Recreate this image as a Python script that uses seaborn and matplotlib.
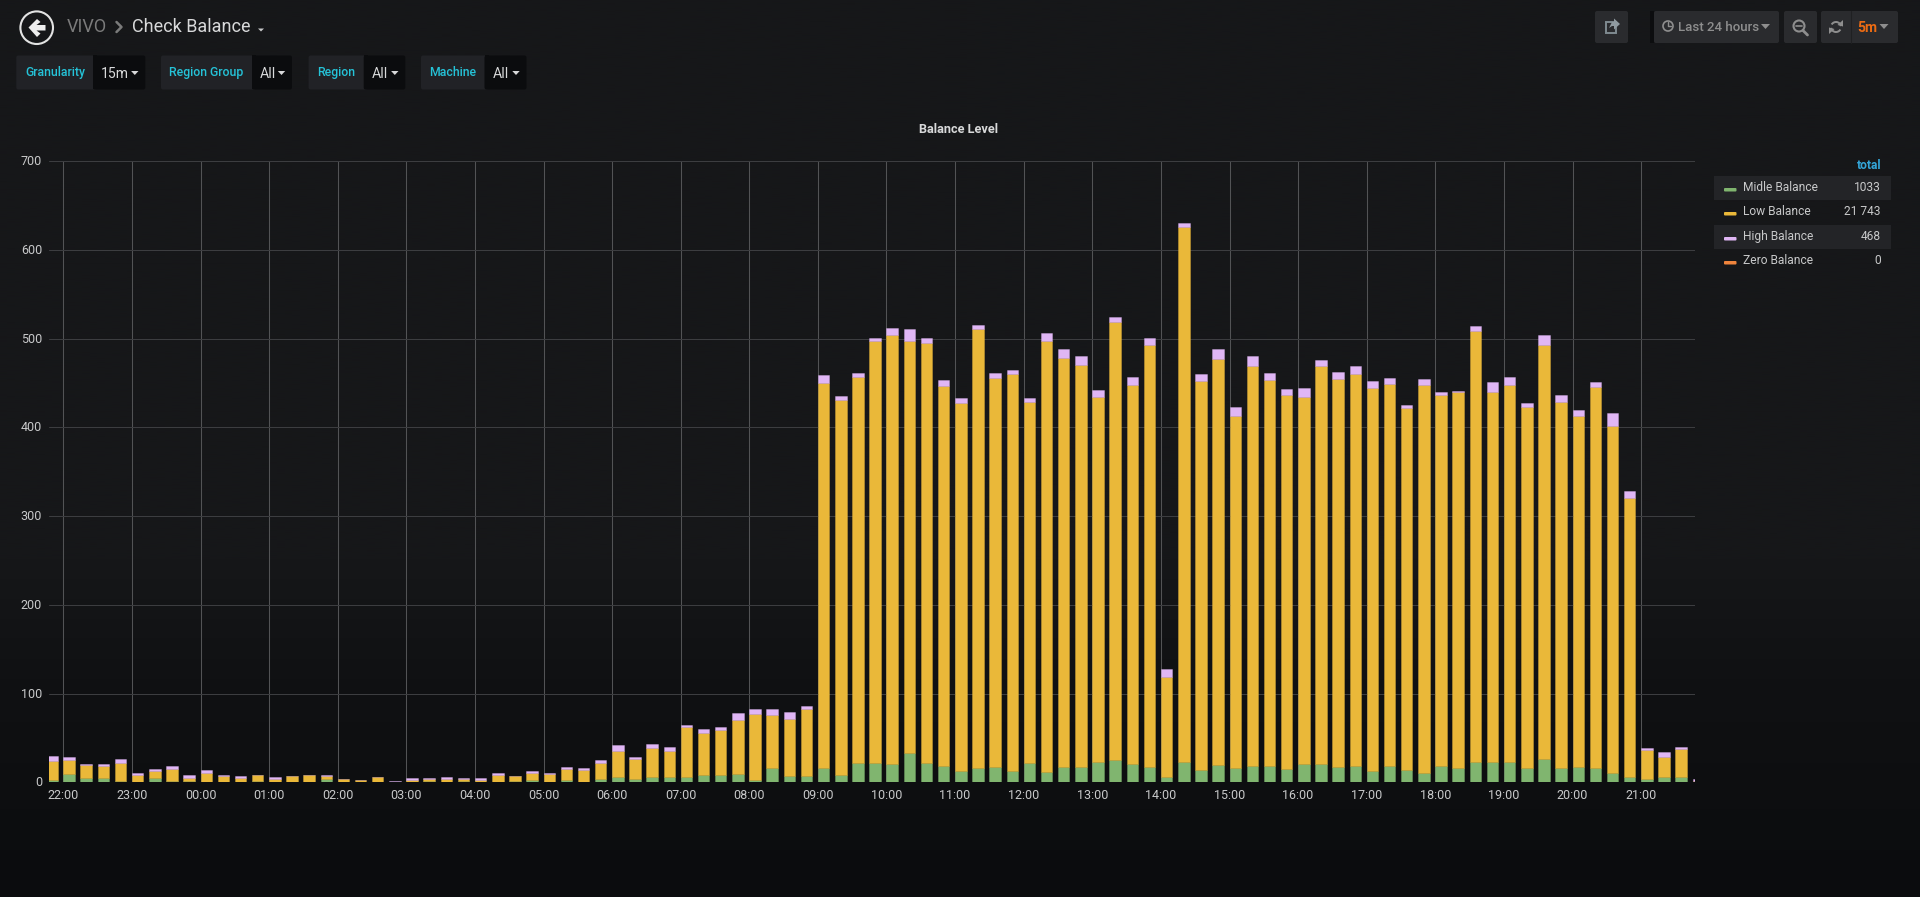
import numpy as np
import pandas as pd
import matplotlib
matplotlib.use("Agg")
import matplotlib.pyplot as plt
from matplotlib.colors import to_rgba, LinearSegmentedColormap
from matplotlib.patches import Circle, FancyBboxPatch, Polygon, Rectangle, Wedge
from matplotlib.transforms import ScaledTranslation
import seaborn as sns

# values per 15 minute slot, first slot is 21:45
midle = [2.3, 9.4, 4.5, 4.5, 1, .5, 4.5, 2, 2, .4, .4, 0, 1.5, .4, .4, 0, 3.5, 0, 0, .4,
         .7, .4, 1.5, .7, 1.5, .4, .4, 1.5, 2.3, 0, 2.3, .4, 3.4, 5.6, 3.4, 5.6, 5.6, 5.6, 8.3, 8,
         9.4, 2.3, 15.8, 6.8, 6.6, 15.8, 7.9, 21.4, 21.4, 20.3, 32.7, 21.4, 18.4, 12.4, 15.8, 17.7, 12.4, 21.4, 11.3, 17,
         17, 22.6, 24.8, 20.3, 17.7, 6.4, 22.6, 13.5, 19.5, 15.8, 18.4, 18.4, 14.7, 20.3, 20.3, 17.7, 18.4, 12.4, 18.4, 13.5,
         10, 18.4, 15.8, 22.6, 22.6, 22.6, 15.8, 26, 15.8, 17, 15.8, 10, 5.6, 3.4, 6.4, 6.4, 0]
low = [22.1, 15.8, 14.5, 13.9, 21, 7.5, 8.5, 13, 3, 10.6, 7.1, 5, 6.5, 3.6, 7.1, 8, 3.5, 3.5, 2.2, 5.1,
       0, 2.6, 2.5, 3.3, 2.5, 2.6, 7.9, 5.5, 8.7, 9.8, 13.1, 13.9, 18.6, 29.4, 22.9, 33.4, 29.7, 56.8, 47, 51.4,
       61.3, 75.1, 60.5, 64.6, 75.7, 433.8, 423.1, 435.7, 476.3, 483.8, 464.6, 473.3, 428.6, 415, 495.5, 437.5, 447.4, 406.8, 486.4, 461.5,
       453.7, 412, 493.6, 427.8, 474.8, 112.6, 602.9, 438.7, 457.5, 397.3, 451.4, 434.9, 421.7, 414.2, 449.5, 437.1, 442.4, 432.2, 430.8, 408.6,
       438, 418.4, 424, 486, 417.9, 425.4, 407, 466.4, 413.4, 396.1, 429.6, 391.4, 314.6, 33.1, 21.6, 31.6, 1.5]
high = [4.9, 2.8, 2, 2.6, 4, 3, 2, 3, 3, 2.5, .5, 2, 0, 1.5, 0, 0, 1.5, 0, 0, 0,
        .8, 1.5, .5, 1.5, .5, 1.5, 1.7, .5, 1.4, .2, 1.6, 1.5, 3.6, 6.7, 2.3, 4.6, 4.2, 1.9, 5.2, 3,
        7.9, 4.9, 6, 7.9, 4.2, 9.4, 5, 3.8, 2.7, 8.3, 14, 6.4, 6.4, 5.6, 4.1, 5.7, 4.5, 4.8, 8.7, 9.8,
        9.3, 7.4, 6, 9, 7.9, 8.8, 5.3, 8, 11.3, 10.1, 10.6, 7.9, 6.7, 9.8, 5.7, 7.5, 8.7, 7.6, 6.3, 3,
        6.4, 3, 1.8, 5.6, 10.5, 9.4, 5.3, 12, 7.2, 7.1, 5.6, 14.7, 7.9, 2.2, 6.6, 1.5, 2.3]
zero = [0] * len(midle)

series_names = ["Midle Balance", "Low Balance", "High Balance", "Zero Balance"]
series_colors = ["#80B56F", "#EAB839", "#E0B6F5", "#EF843C"]
legend_totals = ["1033", "21 743", "468", "0"]

hour_labels = ["22:00", "23:00", "00:00", "01:00", "02:00", "03:00", "04:00", "05:00",
               "06:00", "07:00", "08:00", "09:00", "10:00", "11:00", "12:00", "13:00",
               "14:00", "15:00", "16:00", "17:00", "18:00", "19:00", "20:00", "21:00"]
y_ticks = [0, 100, 200, 300, 400, 500, 600, 700]

filters = [("Granularity", "15m"), ("Region Group", "All"), ("Region", "All"), ("Machine", "All")]

sns.set_theme(style="dark")
plt.rcParams["font.family"] = ["Roboto", "DejaVu Sans"]

W, H = 1920, 897
fig = plt.figure(figsize=(W / 100, H / 100), dpi=100)

# full page layer in pixel coordinates, for the dashboard around the chart
page = fig.add_axes([0, 0, 1, 1], zorder=0)
page.set_xlim(0, W)
page.set_ylim(H, 0)
page.axis("off")

stops = [(0, "#161719"), (560 / H, "#161719"), (680 / H, "#101113"), (1, "#0b0c0e")]
bg = LinearSegmentedColormap.from_list("bg", stops)
page.imshow(np.linspace(0, 1, 400).reshape(-1, 1), cmap=bg, aspect="auto", extent=(0, W, H, 0), vmin=0, vmax=1)
page.set_xlim(0, W)
page.set_ylim(H, 0)


def box(x0, y0, x1, y1, color, rad=2):
    page.add_patch(FancyBboxPatch((x0 + rad, y0 + rad), x1 - x0 - 2 * rad, y1 - y0 - 2 * rad,
                                  boxstyle=f"round,pad={rad},rounding_size={rad}", fc=color, ec="none"))


def label(x, y, s, px=12, color="#d8d9da", ha="left", weight="normal"):
    page.text(x, y, s, fontsize=px * 0.72, color=color, ha=ha, va="center", weight=weight)


def caret(x, y, color="#c8c9ca", w=4.5, h=3):
    page.add_patch(Polygon([(x - w, y - h + 1), (x + w, y - h + 1), (x, y + h)], fc=color, ec="none"))


# header left
page.add_patch(Circle((36.7, 27.7), 16.3, fc="none", ec="#e3e3e3", lw=1.5))
page.add_patch(Polygon([(28.5, 27.5), (37, 19), (40.5, 22), (36.5, 25), (45.5, 25), (45.5, 30.5), (36.5, 30.5),
                        (40.5, 33.5), (37, 37)], fc="#eeeeee", ec="none"))
label(67, 27, "VIVO", 18, "#7b7b7b")
page.plot([116.5, 121.5, 116.5], [22, 27, 32], color="#7b7b7b", lw=1.8)
label(132, 27, "Check Balance", 18, "#d8d9da")
caret(261, 29.5, "#c8c9ca", 3, 2)

# template variables
fx = [(16.3, 93, 145.3), (161, 252, 292), (308.6, 363.7, 405.3), (421, 484.5, 526.5)]
text_x = [25.3, 169.4, 317.6, 429.4]
for (name, val), (x0, x1, x2), tx in zip(filters, fx, text_x):
    box(x0, 55.5, x1 + 4, 89.5, "#212226")
    box(x1, 55.5, x2, 89.5, "#0b0c0e")
    page.add_patch(Rectangle((x1, 55.5), 4, 34, fc="#0b0c0e", ec="none"))
    label(tx, 72.5, name, 12.2, "#25c3d8", weight="medium")
    label(x1 + 8, 73.5, val, 14, "#d8d9da")
    caret(x2 - 10.5, 72.5, "#d8d9da", 3.7, 2.5)

# header right
for x0, x1 in [(1595, 1628), (1654, 1779), (1784, 1817), (1821, 1898)]:
    box(x0, 11, x1, 43, "#2a2b2e")
page.add_patch(Rectangle((1650, 11), 4, 32, fc="#0c0d0f", ec="none"))
page.plot([1851, 1851], [11, 43], color="#1f2022", lw=0.8)
# share icon
page.add_patch(Rectangle((1605.5, 22), 10.5, 11, fc="none", ec="#7f8a90", lw=1.4))
page.add_patch(Polygon([(1609, 28), (1612, 22), (1614, 22), (1614, 18.5), (1620, 24), (1614, 29.5), (1614, 26), (1612, 26)],
                       fc="#8f9aa0", ec="none"))
# clock icon
page.add_patch(Circle((1668, 26), 5, fc="none", ec="#8e8e8e", lw=1.2))
page.plot([1668, 1668, 1671], [22.5, 26.5, 26.5], color="#8e8e8e", lw=1)
label(1677.5, 27.5, "Last 24 hours", 13.2, "#8e8e8e", weight="medium")
caret(1765.5, 26, "#8e8e8e", 4.5, 3)
# zoom out icon
page.add_patch(Circle((1799, 26), 5.5, fc="none", ec="#8e8e8e", lw=1.5))
page.plot([1796, 1802], [26, 26], color="#8e8e8e", lw=1.2)
page.plot([1803, 1807.5], [30.5, 35], color="#8e8e8e", lw=2)
# refresh icon
page.add_patch(Wedge((1836, 27), 6, 30, 170, width=2, fc="#8e8e8e", ec="none"))
page.add_patch(Wedge((1836, 27), 6, 210, 350, width=2, fc="#8e8e8e", ec="none"))
page.add_patch(Polygon([(1843, 20), (1843, 26.5), (1837.5, 25)], fc="#8e8e8e", ec="none"))
page.add_patch(Polygon([(1829, 34), (1829, 27.5), (1834.5, 29)], fc="#8e8e8e", ec="none"))
label(1857, 27.5, "5m", 14, "#ec6b13", weight="bold")
caret(1884, 26, "#8e8e8e", 4.5, 3)

# legend table
label(1881, 165.5, "total", 12, "#33a5d8", ha="right", weight="bold")
row_y = [188, 212, 237, 261]
for y0, y1 in [(176, 200), (225, 249)]:
    page.add_patch(Rectangle((1714, y0), 176.5, y1 - y0, fc="#232427", ec="none"))
for name, col, tot, y in zip(series_names, series_colors, legend_totals, row_y):
    box(1724, y, 1736.5, y + 3.5, col, rad=1)
    label(1743, y - 0.5, name, 12, "#c8c9ca")
    label(1881, y - 0.5, tot, 12, "#c8c9ca", ha="right")

label(959, 129.5, "Balance Level", 12.8, "#d8d9da", ha="center", weight="bold")

# chart axes, one x unit is one 15 minute slot and 22:00 sits on 1
left, right, top, bottom = 49, 1695, 161.3, 782.3
ax = fig.add_axes([left / W, 1 - bottom / H, (right - left) / W, (bottom - top) / H], zorder=1)
ax.patch.set_alpha(0)

bar_width = 0.67
slots = np.arange(len(midle))
df = pd.DataFrame({"slot": slots + bar_width / 2, "Midle Balance": midle, "Low Balance": low,
                   "High Balance": high, "Zero Balance": zero})

base = np.zeros(len(df))
for name, col in zip(series_names, series_colors):
    vals = df[name].to_numpy(dtype=float)
    sns.barplot(data=df, x="slot", y=name, native_scale=True, orient="x", color=col, saturation=1,
                width=bar_width, bottom=base, errorbar=None, edgecolor=to_rgba(col, 0.35),
                linewidth=0.7 if vals.sum() else 0, ax=ax, zorder=3)
    base = base + vals

ax.set_xlim(1 + (left - 63.3) / 17.15, 1 + (right - 63.3) / 17.15)
ax.set_ylim(0, 700)
ax.set_xlabel("")
ax.set_ylabel("")
ax.set_xticks(1 + 4 * np.arange(len(hour_labels)))
ax.set_xticklabels(hour_labels)
ax.set_yticks(y_ticks)
ax.set_axisbelow(True)
ax.grid(axis="y", color="#3c3d40", lw=0.75)
ax.grid(axis="x", color="#525355", lw=0.75)
ax.tick_params(axis="both", length=0, labelsize=9, labelcolor="#c8c9ca", pad=5)
ax.tick_params(axis="x", pad=5)
shift_up = ScaledTranslation(0, 1 / 100, fig.dpi_scale_trans)
for t in ax.get_yticklabels():
    t.set_transform(t.get_transform() + shift_up)
for sp in ax.spines.values():
    sp.set_visible(False)

fig.savefig("out.png", dpi=100, facecolor="#161719")
